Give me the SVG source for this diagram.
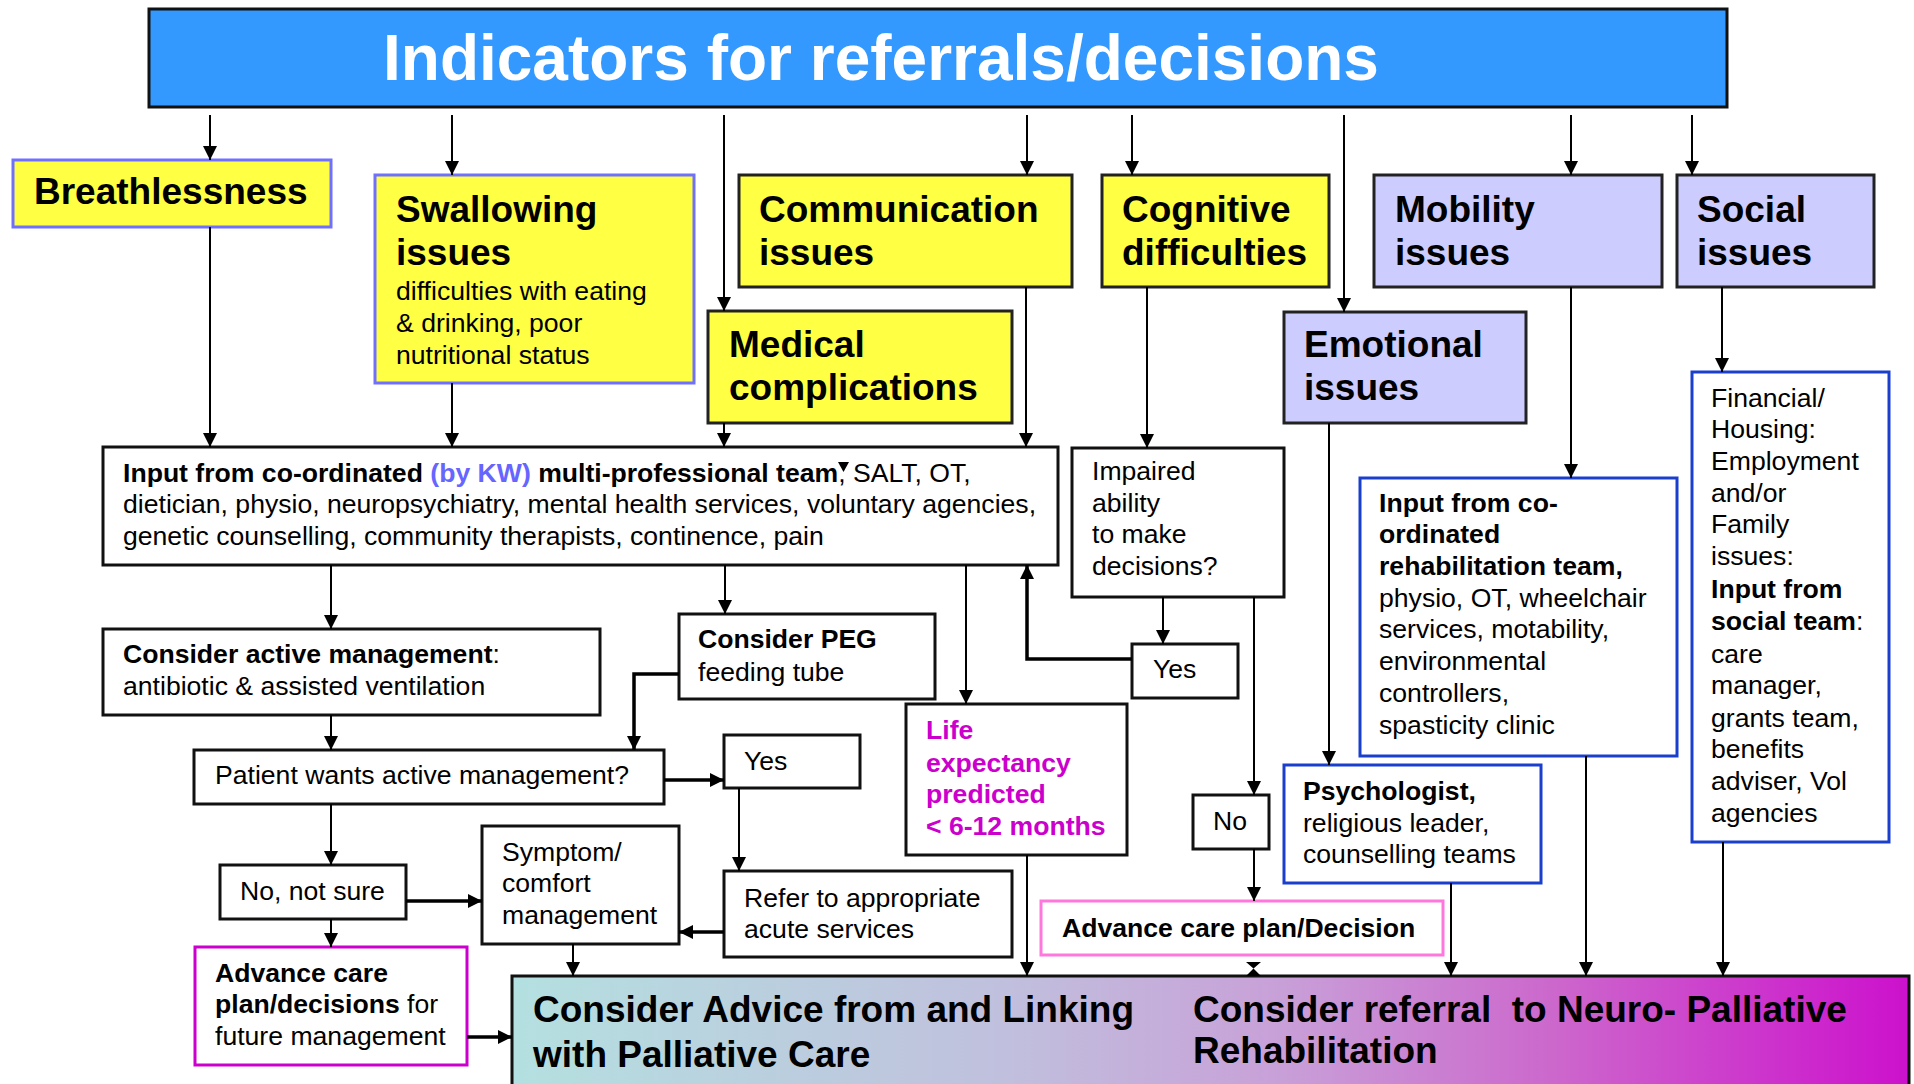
<svg xmlns="http://www.w3.org/2000/svg" width="1914" height="1084" viewBox="0 0 1914 1084">
<defs>
<style>
text { font-family: "Liberation Sans", Arial, Helvetica, sans-serif; fill: #000; }
.h { font-size: 37px; font-weight: bold; }
.s { font-size: 26.6px; }
.b { font-weight: bold; }
.box { fill: #fff; stroke: #111; stroke-width: 3; }
.ybox { fill: #ffff44; stroke: #222; stroke-width: 3; }
.ybb { fill: #ffff44; stroke: #7070ff; stroke-width: 3; }
.lbox { fill: #ccccff; stroke: #222; stroke-width: 3; }
.bbox { fill: #fff; stroke: #1a3fcc; stroke-width: 3; }
.pbox { fill: #fff; stroke: #ff77dd; stroke-width: 3; }
.mbox { fill: #fff; stroke: #cc00cc; stroke-width: 3; }
.c { fill: none; stroke: #000; stroke-width: 2; marker-end: url(#arr); }
.ct { fill: none; stroke: #000; stroke-width: 3.5; marker-end: url(#arr); }
.mag { fill: #cc00cc; font-weight: bold; font-size: 26.6px; }
</style>
<marker id="arr" viewBox="0 0 10 10" refX="10" refY="5" markerUnits="userSpaceOnUse" markerWidth="15" markerHeight="14" orient="auto">
<path d="M0,0 L10,5 L0,10 z" fill="#000"/>
</marker>
<linearGradient id="grad" x1="0" y1="0" x2="1" y2="0">
<stop offset="0" stop-color="#b4e0e0"/>
<stop offset="0.35" stop-color="#c0c0dd"/>
<stop offset="0.55" stop-color="#c8a0d8"/>
<stop offset="0.75" stop-color="#cc66cc"/>
<stop offset="1" stop-color="#cc11cc"/>
</linearGradient>
</defs>
<rect width="1914" height="1084" fill="#fff"/>

<g id="title">
<rect x="149" y="9" width="1578" height="98" fill="#3399ff" stroke="#111" stroke-width="3"/>
<text x="383" y="80" font-size="64" font-weight="bold" style="fill:#fff">Indicators for referrals/decisions</text>
</g>

<g id="breathlessness">
<rect class="ybb" x="13" y="160" width="318" height="67"/>
<text class="h" x="34" y="204">Breathlessness</text>
</g>

<g id="swallowing">
<rect class="ybb" x="375" y="175" width="319" height="208"/>
<text class="h" x="396" y="222">Swallowing</text>
<text class="h" x="396" y="265">issues</text>
<text class="s" x="396" y="300">difficulties with eating</text>
<text class="s" x="396" y="332">&amp; drinking, poor</text>
<text class="s" x="396" y="364">nutritional status</text>
</g>

<g id="communication">
<rect class="ybox" x="739" y="175" width="333" height="112"/>
<text class="h" x="759" y="222">Communication</text>
<text class="h" x="759" y="265">issues</text>
</g>

<g id="cognitive">
<rect class="ybox" x="1102" y="175" width="227" height="112"/>
<text class="h" x="1122" y="222">Cognitive</text>
<text class="h" x="1122" y="265">difficulties</text>
</g>

<g id="mobility">
<rect class="lbox" x="1374" y="175" width="288" height="112"/>
<text class="h" x="1395" y="222">Mobility</text>
<text class="h" x="1395" y="265">issues</text>
</g>

<g id="social">
<rect class="lbox" x="1677" y="175" width="197" height="112"/>
<text class="h" x="1697" y="222">Social</text>
<text class="h" x="1697" y="265">issues</text>
</g>

<g id="medical">
<rect class="ybox" x="708" y="311" width="304" height="112"/>
<text class="h" x="729" y="357">Medical</text>
<text class="h" x="729" y="400">complications</text>
</g>

<g id="emotional">
<rect class="lbox" x="1284" y="312" width="242" height="111"/>
<text class="h" x="1304" y="357">Emotional</text>
<text class="h" x="1304" y="400">issues</text>
</g>

<g id="mdt">
<rect class="box" x="103" y="447" width="955" height="118"/>
<text class="s" x="123" y="482"><tspan class="b">Input from co-ordinated </tspan><tspan class="b" style="fill:#6666ff">(by KW)</tspan><tspan class="b"> multi-professional team</tspan>, SALT, OT,</text>
<text class="s" x="123" y="513">dietician, physio, neuropsychiatry, mental health services, voluntary agencies,</text>
<text class="s" x="123" y="545">genetic counselling, community therapists, continence, pain</text>
<polygon points="838,462 849,462 843.5,472" fill="#000"/>
</g>

<g id="impaired">
<rect class="box" x="1072" y="448" width="212" height="149"/>
<text class="s" x="1092" y="480">Impaired</text>
<text class="s" x="1092" y="512">ability</text>
<text class="s" x="1092" y="543">to make</text>
<text class="s" x="1092" y="575">decisions?</text>
</g>

<g id="rehab">
<rect class="bbox" x="1360" y="478" width="317" height="278"/>
<text class="s b" x="1379" y="512">Input from co-</text>
<text class="s b" x="1379" y="543">ordinated</text>
<text class="s b" x="1379" y="575">rehabilitation team,</text>
<text class="s" x="1379" y="607">physio, OT, wheelchair</text>
<text class="s" x="1379" y="638">services, motability,</text>
<text class="s" x="1379" y="670">environmental</text>
<text class="s" x="1379" y="702">controllers,</text>
<text class="s" x="1379" y="734">spasticity clinic</text>
</g>

<g id="financial">
<rect class="bbox" x="1692" y="372" width="197" height="470"/>
<text class="s" x="1711" y="407">Financial/</text>
<text class="s" x="1711" y="438">Housing:</text>
<text class="s" x="1711" y="470">Employment</text>
<text class="s" x="1711" y="502">and/or</text>
<text class="s" x="1711" y="533">Family</text>
<text class="s" x="1711" y="565">issues:</text>
<text class="s b" x="1711" y="598">Input from</text>
<text class="s" x="1711" y="630"><tspan class="b">social team</tspan>:</text>
<text class="s" x="1711" y="663">care</text>
<text class="s" x="1711" y="694">manager,</text>
<text class="s" x="1711" y="727">grants team,</text>
<text class="s" x="1711" y="758">benefits</text>
<text class="s" x="1711" y="790">adviser, Vol</text>
<text class="s" x="1711" y="822">agencies</text>
</g>

<g id="active">
<rect class="box" x="103" y="629" width="497" height="86"/>
<text class="s" x="123" y="663"><tspan class="b">Consider active management</tspan>:</text>
<text class="s" x="123" y="695">antibiotic &amp; assisted ventilation</text>
</g>

<g id="peg">
<rect class="box" x="679" y="614" width="256" height="85"/>
<text class="s b" x="698" y="648">Consider PEG</text>
<text class="s" x="698" y="681">feeding tube</text>
</g>

<g id="yes-cog">
<rect class="box" x="1132" y="644" width="106" height="54"/>
<text class="s" x="1153" y="678">Yes</text>
</g>

<g id="life">
<rect class="box" x="906" y="704" width="221" height="151"/>
<text class="mag" x="926" y="739">Life</text>
<text class="mag" x="926" y="772">expectancy</text>
<text class="mag" x="926" y="803">predicted</text>
<text class="mag" x="926" y="835">&lt; 6-12 months</text>
</g>

<g id="patient">
<rect class="box" x="194" y="750" width="470" height="54"/>
<text class="s" x="215" y="784">Patient wants active management?</text>
</g>

<g id="yes-pat">
<rect class="box" x="724" y="735" width="136" height="53"/>
<text class="s" x="744" y="770">Yes</text>
</g>

<g id="no-cog">
<rect class="box" x="1193" y="795" width="76" height="54"/>
<text class="s" x="1213" y="830">No</text>
</g>

<g id="psychologist">
<rect class="bbox" x="1284" y="765" width="257" height="118"/>
<text class="s b" x="1303" y="800">Psychologist,</text>
<text class="s" x="1303" y="832">religious leader,</text>
<text class="s" x="1303" y="863">counselling teams</text>
</g>

<g id="notsure">
<rect class="box" x="220" y="865" width="186" height="54"/>
<text class="s" x="240" y="900">No, not sure</text>
</g>

<g id="symptom">
<rect class="box" x="482" y="826" width="197" height="118"/>
<text class="s" x="502" y="861">Symptom/</text>
<text class="s" x="502" y="892">comfort</text>
<text class="s" x="502" y="924">management</text>
</g>

<g id="refer">
<rect class="box" x="724" y="871" width="288" height="86"/>
<text class="s" x="744" y="907">Refer to appropriate</text>
<text class="s" x="744" y="938">acute services</text>
</g>

<g id="acp-decision">
<rect class="pbox" x="1041" y="901" width="402" height="54"/>
<text class="s b" x="1062" y="937">Advance care plan/Decision</text>
</g>

<g id="acp-future">
<rect class="mbox" x="195" y="947" width="272" height="118"/>
<text class="s b" x="215" y="982">Advance care</text>
<text class="s" x="215" y="1013"><tspan class="b">plan/decisions</tspan> for</text>
<text class="s" x="215" y="1045">future management</text>
</g>

<g id="outcome">
<rect x="512" y="976" width="1397" height="120" fill="url(#grad)" stroke="#111" stroke-width="3"/>
<text class="h" x="533" y="1022">Consider Advice from and Linking</text>
<text class="h" x="533" y="1067">with Palliative Care</text>
<text class="h" x="1193" y="1022" xml:space="preserve">Consider referral  to Neuro- Palliative</text>
<text class="h" x="1193" y="1063">Rehabilitation</text>
</g>

<g id="connectors">
<path class="c" d="M210,115 V160"/>
<path class="c" d="M452,115 V175"/>
<path class="c" d="M724,115 V311"/>
<path class="c" d="M1027,115 V175"/>
<path class="c" d="M1132,115 V175"/>
<path class="c" d="M1344,115 V312"/>
<path class="c" d="M1571,115 V175"/>
<path class="c" d="M1692,115 V175"/>
<path class="c" d="M210,227 V447"/>
<path class="c" d="M452,383 V447"/>
<path class="c" d="M724,423 V447"/>
<path class="c" d="M1026,287 V447"/>
<path class="c" d="M1147,287 V448"/>
<path class="c" d="M1329,423 V765"/>
<path class="c" d="M1571,287 V478"/>
<path class="c" d="M1722,287 V372"/>
<path class="c" d="M331,565 V629"/>
<path class="c" d="M725,565 V614"/>
<path class="c" d="M966,565 V704"/>
<path class="c" d="M331,715 V750"/>
<path class="ct" d="M679,674 H634 V750"/>
<path class="ct" d="M664,780 H724"/>
<path class="c" d="M739,788 V871"/>
<path class="c" d="M331,804 V865"/>
<path class="ct" d="M406,901 H482"/>
<path class="c" d="M331,919 V947"/>
<path class="ct" d="M724,932 H679"/>
<path class="c" d="M573,944 V976"/>
<path class="ct" d="M467,1037 H512"/>
<path class="c" d="M1027,855 V976"/>
<path class="c" d="M1163,597 V644"/>
<path class="ct" d="M1132,659 H1027 V565"/>
<path class="c" d="M1254,597 V795"/>
<path class="c" d="M1254,849 V901"/>
<polygon points="1246,962 1261,962 1253.5,968.5 1261,976 1246,976 1253.5,968.5" fill="#000"/>
<path class="c" d="M1451,883 V976"/>
<path class="c" d="M1586,756 V976"/>
<path class="c" d="M1723,842 V976"/>
</g>
</svg>
